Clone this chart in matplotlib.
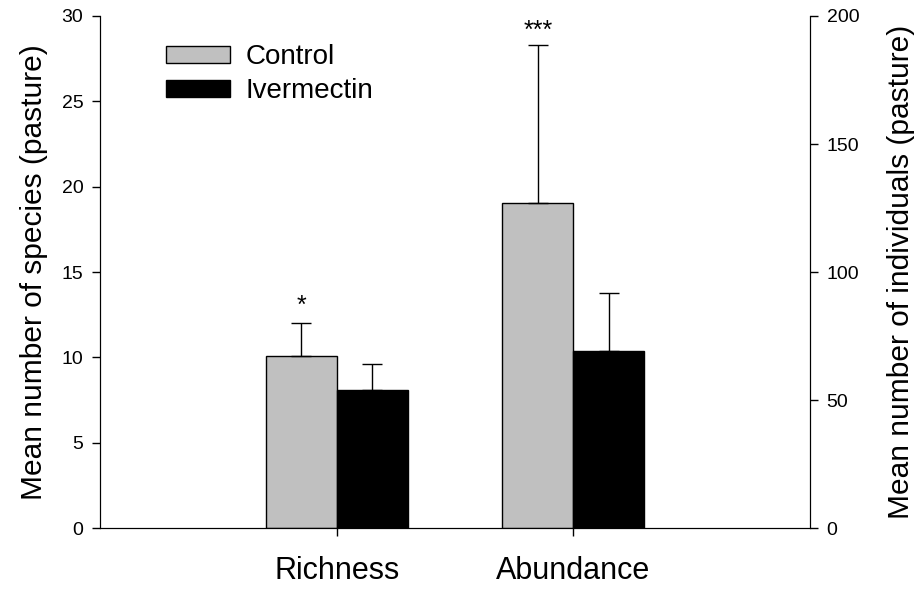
import numpy as np
import matplotlib
matplotlib.use('Agg')
import matplotlib.pyplot as plt

plt.rcParams['font.family'] = ['Liberation Sans', 'DejaVu Sans']

categories = ['Richness', 'Abundance']
groups = ['Control', 'Ivermectin']
colors = ['#c0c0c0', '#000000']

# richness on the left axis (species), abundance on the right axis (individuals)
richness_mean = [10.1, 8.1]
richness_se = [1.9, 1.5]
abundance_mean = [127.0, 69.3]
abundance_se = [61.6, 22.5]
signif = ['*', '***']

fig = plt.figure(figsize=(9.22, 5.92), dpi=100)
ax = fig.add_axes([0.1085, 0.108, 0.77, 0.865])
ax2 = ax.twinx()

x = np.array([1, 2])
w = 0.3
offs = [-w / 2, w / 2]

for i in range(2):
    ax.bar(x[0] + offs[i], richness_mean[i], w, color=colors[i], edgecolor='black',
           linewidth=1, label=groups[i], zorder=2)
    ax.errorbar(x[0] + offs[i], richness_mean[i], yerr=[[0], [richness_se[i]]],
                fmt='none', ecolor='black', elinewidth=1, capsize=7.5, capthick=1, zorder=3)
    ax2.bar(x[1] + offs[i], abundance_mean[i], w, color=colors[i], edgecolor='black',
            linewidth=1, zorder=2)
    ax2.errorbar(x[1] + offs[i], abundance_mean[i], yerr=[[0], [abundance_se[i]]],
                 fmt='none', ecolor='black', elinewidth=1, capsize=7.5, capthick=1, zorder=3)

# significance stars above control bars
ax.annotate(signif[0], (x[0] + offs[0], richness_mean[0] + richness_se[0]),
            xytext=(0, 4), textcoords='offset points', ha='center', va='bottom', fontsize=18)
ax2.annotate(signif[1], (x[1] + offs[0], abundance_mean[0] + abundance_se[0]),
             xytext=(0, 2), textcoords='offset points', ha='center', va='bottom', fontsize=18)

ax.set_xlim(0, 3)
ax.set_ylim(0, 30)
ax2.set_ylim(0, 200)
ax.set_yticks([0, 5, 10, 15, 20, 25, 30])
ax2.set_yticks([0, 50, 100, 150, 200])
ax.set_xticks(x)
ax.set_xticklabels(categories, fontsize=22)

ax.spines['top'].set_visible(False)
ax2.spines['top'].set_visible(False)
ax.tick_params(axis='y', direction='out', length=6, width=1, labelsize=14, pad=6)
ax2.tick_params(axis='y', direction='out', length=6, width=1, labelsize=14, pad=6)
ax.tick_params(axis='x', direction='out', length=6, width=1, pad=14)

ax.set_ylabel('Mean number of species (pasture)', fontsize=21.5, labelpad=10)
ax2.set_ylabel('Mean number of individuals (pasture)', fontsize=21.5, labelpad=20)

ax.legend(loc='upper left', bbox_to_anchor=(0.093, 0.945), frameon=False, fontsize=20,
          handlelength=2.3, handleheight=0.55, handletextpad=0.55, labelspacing=0.3,
          borderpad=0, borderaxespad=0)

fig.savefig('out.png', dpi=100)
